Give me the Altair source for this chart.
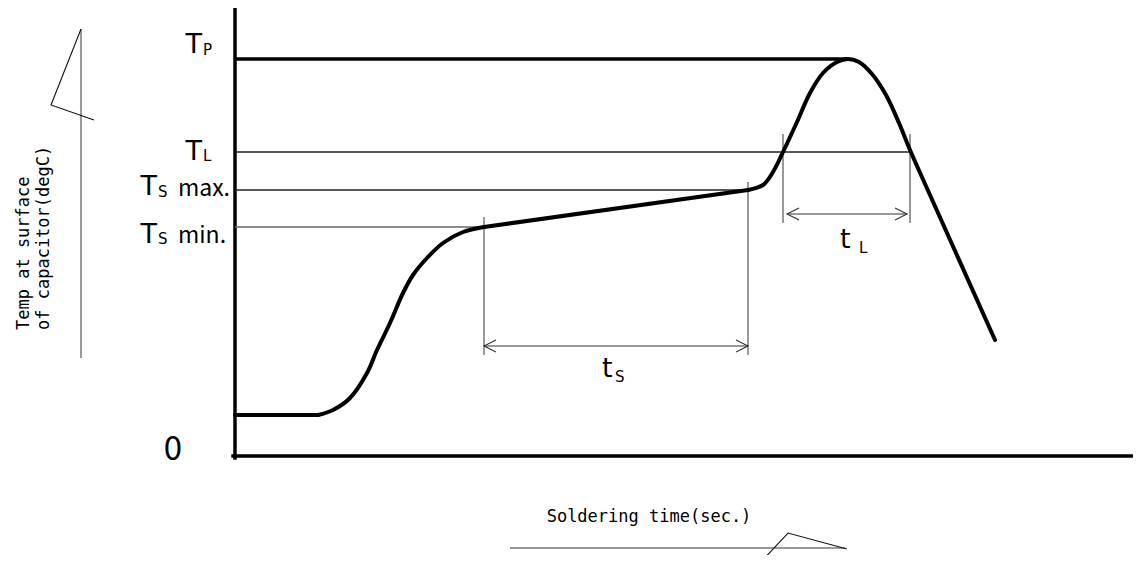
import altair as alt
import pandas as pd

# ---- data (time units from the origin, temperature units above the baseline) ----
profile_time = [0, 83, 98, 115, 132, 142, 155, 168, 178, 192, 208, 228, 249,
                513, 528, 538, 548, 562, 575, 588, 602, 613, 624, 637,
                651, 664, 675, 695, 760]
profile_temp = [41, 41, 46, 58, 83, 106, 133, 163, 181, 198, 213, 224, 229,
                266, 271, 284, 304, 334, 363, 383, 394, 397, 394, 382,
                361, 333, 306, 261, 116]
# profile pieces: (first index, last index, interpolation)
profile_pieces = [(0, 1, "linear"), (1, 12, "catmull-rom"), (12, 13, "linear"), (13, 28, "catmull-rom")]

level_labels = ["TP", "TL", "Ts max", "Ts min"]
level_temp = [397, 304, 266, 229]
level_end_time = [613, 675, 513, 249]

ts_start, ts_end, ts_arrow_temp = 249, 513, 110
tl_start, tl_end, tl_arrow_temp = 548, 675, 242
ts_marker_top = [239, 274]
ts_marker_bottom = 101
tl_marker_top = 322
tl_marker_bottom = 233

x_min, x_max = -227, 898
y_min, y_max = -99, 448

# ---- scales ----
xs = alt.Scale(domain=[x_min, x_max], nice=False, zero=False)
ys = alt.Scale(domain=[y_min, y_max], nice=False, zero=False)

NARROW = "Noto Sans CJK JP"


def segs(segments):
    rows = []
    for k, pts in enumerate(segments):
        for i, (t, T) in enumerate(pts):
            rows.append({"seg": k, "i": i, "t": t, "T": T})
    return pd.DataFrame(rows)


def line_layer(segments, color, width, interp="linear", cap="butt"):
    return alt.Chart(segs(segments)).mark_line(
        color=color, strokeWidth=width, interpolate=interp, strokeCap=cap
    ).encode(
        x=alt.X("t:Q", scale=xs, axis=None),
        y=alt.Y("T:Q", scale=ys, axis=None),
        detail="seg:N",
        order="i:Q",
    )


def text_layer(items, size, align="left", baseline="alphabetic", font="DejaVu Sans", angle=0, color="#000"):
    df = pd.DataFrame(items, columns=["t", "T", "label"])
    return alt.Chart(df).mark_text(
        fontSize=size, align=align, baseline=baseline, font=font, angle=angle, color=color
    ).encode(
        x=alt.X("t:Q", scale=xs, axis=None),
        y=alt.Y("T:Q", scale=ys, axis=None),
        text="label:N",
    )


def arrow(t0, t1, T, head_t=12, head_T=6):
    return [
        [(t0, T), (t1, T)],
        [(t0 + head_t, T + head_T), (t0, T), (t0 + head_t, T - head_T)],
        [(t1 - head_t, T + head_T), (t1, T), (t1 - head_t, T - head_T)],
    ]


layers = []

# axes
layers.append(line_layer([[(0, y_max), (0, -2)], [(-2, 0), (x_max, 0)]], "#000", 3.5, cap="square"))

# level lines
layers.append(line_layer([[(0, level_temp[0]), (level_end_time[0], level_temp[0])]], "#000", 3.5))
layers.append(line_layer([[(0, level_temp[1]), (level_end_time[1], level_temp[1])]], "#222", 1.3))
layers.append(line_layer([[(0, level_temp[2]), (level_end_time[2], level_temp[2])]], "#222", 1.3))
layers.append(line_layer([[(0, level_temp[3]), (level_end_time[3], level_temp[3])]], "#666", 1.3))

# marker verticals
layers.append(line_layer([
    [(ts_start, ts_marker_top[0]), (ts_start, ts_marker_bottom)],
    [(ts_end, ts_marker_top[1]), (ts_end, ts_marker_bottom)],
    [(tl_start, tl_marker_top), (tl_start, tl_marker_bottom)],
    [(tl_end, tl_marker_top), (tl_end, tl_marker_bottom)],
], "#777", 1.5))

# dimension arrows
layers.append(line_layer(arrow(ts_start, ts_end, ts_arrow_temp) + arrow(tl_start + 4, tl_end - 3, tl_arrow_temp),
                         "#333", 1.1))

# profile, drawn piece by piece
for a, b, interp in profile_pieces:
    piece = [list(zip(profile_time[a:b + 1], profile_temp[a:b + 1]))]
    layers.append(line_layer(piece, "#000", 4, interp=interp, cap="round"))

# axis title arrows
layers.append(line_layer([[(-154, 427), (-154, 98)], [(275, -92), (610, -92)]], "#777", 1.5))
layers.append(line_layer([[(-154, 427), (-184, 351), (-141, 336)],
                          [(525, -107), (553, -77), (612, -93)]], "#111", 1.1))

# labels
layers.append(text_layer([(-33, 403, "T"), (-33, 296, "T"), (-78, 261, "T"), (-78, 213, "T")],
                         27, align="right"))
layers.append(text_layer([(-32, 401, "P"), (-32, 295, "L"), (-77, 259, "S"), (-77, 212, "S")], 15))
layers.append(text_layer([(-57, 260, "max."), (-57, 213, "min.")], 23, align="left", font=NARROW))
layers.append(text_layer([(-53, -4, "0")], 33, align="right", font=NARROW))
layers.append(text_layer([(367, 79, "t"), (605, 208, "t")], 27))
layers.append(text_layer([(380, 74, "S"), (624, 203, "L")], 15))
layers.append(text_layer([(414, -66, "Soldering time(sec.)")], 17, align="center",
                         font="DejaVu Sans Mono"))
layers.append(text_layer([(-211, 126, "Temp at surface"), (-191, 126, "of capacitor(degC)")], 17,
                         align="left", baseline="middle", font="DejaVu Sans Mono", angle=270))

chart = alt.layer(*layers).properties(
    width=1125, height=547, padding=0, autosize=alt.AutoSizeParams(type="none")
).configure_view(stroke=None)

chart.save("out.html", embed_options={"renderer": "svg", "actions": False})
